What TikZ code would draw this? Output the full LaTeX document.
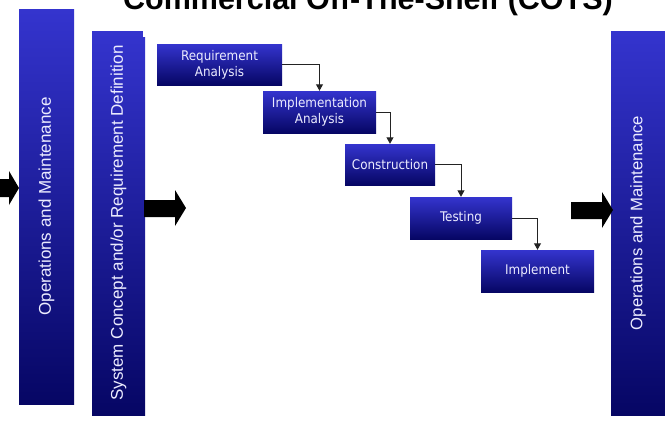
\documentclass[tikz,border=0pt]{standalone}
\usepackage{fontspec}
\setmainfont{Liberation Sans}
\newfontfamily\boxfont{DejaVu Sans Condensed}
\usetikzlibrary{arrows.meta}

\definecolor{phasetop}{RGB}{52,52,206}
\definecolor{phasebottom}{RGB}{6,6,100}
\definecolor{phasetext}{RGB}{236,236,255}
\definecolor{linkgray}{RGB}{35,35,35}

\begin{document}
\begin{tikzpicture}[x=1pt,y=-1pt,
  % waterfall step boxes
  stepbox/.style={rectangle, draw=none, inner sep=0pt, align=center,
    top color=phasetop, bottom color=phasebottom, text=phasetext,
    font=\boxfont\fontsize{13.3}{16}\selectfont},
  % tall vertical phase bars with vertical text
  phasebar/.style={rectangle, draw=none, inner sep=0pt, rotate=90,
    top color=phasetop, bottom color=phasebottom, text=phasetext,
    font=\fontsize{17}{20}\selectfont},
  link/.style={draw=linkgray, line width=1pt,
    -{Triangle[length=6.5pt,width=7pt]}},
  bigarrow/.style={fill=black, draw=none}
]
\useasboundingbox (0,0) rectangle (665,426);

% title, mostly above the top edge
\node[font=\bfseries\fontsize{30.5}{34}\selectfont, anchor=base] (title) at (368,9)
  {Commercial Off-The-Shelf (COTS)};

% phase bars
\node[phasebar, minimum width=395pt, minimum height=55pt] (opsleft) at (46.5,206.5)
  {Operations and Maintenance};
\node[phasebar, minimum width=384pt, minimum height=53pt] (concept) at (118.5,223)
  {System Concept and/or Requirement Definition};
\node[phasebar, minimum width=384pt, minimum height=54pt, font=\fontsize{16.7}{20}\selectfont] (opsright) at (638,223)
  {Operations and Maintenance};
% small step in the top right corner of the concept bar
\fill[white] (142.5,30) rectangle (145.5,37);

% waterfall steps
\node[stepbox, minimum width=125pt, minimum height=41pt] (req)  at (219.5,64.5) {Requirement\\Analysis};
\node[stepbox, minimum width=113pt, minimum height=42pt] (impl) at (319.5,112)  {Implementation\\Analysis};
\node[stepbox, minimum width=90pt,  minimum height=41pt] (cons) at (390,164.5)  {Construction};
\node[stepbox, minimum width=102pt, minimum height=42pt] (test) at (461,218)    {Testing};
\node[stepbox, minimum width=113pt, minimum height=42pt] (impt) at (537.5,271)  {Implement};

% step-to-step connectors
\draw[link] (req.east)  -| (impl.north);
\draw[link] (impl.east) -| (cons.north);
\draw[link] (cons.east) -| (test.north);
\draw[link] (test.east) -| (impt.north);

% block arrows between phases
\fill[bigarrow] (0,179) -- (9,179) -- (9,171) -- (19,188) -- (9,205) -- (9,197) -- (0,197) -- cycle;
\fill[bigarrow] (144,200) -- (175,200) -- (175,190) -- (186,208) -- (175,226) -- (175,217) -- (144,217) -- cycle;
\fill[bigarrow] (571,202) -- (602,202) -- (602,192) -- (613,210) -- (602,228) -- (602,219) -- (571,219) -- cycle;
\end{tikzpicture}
\end{document}
